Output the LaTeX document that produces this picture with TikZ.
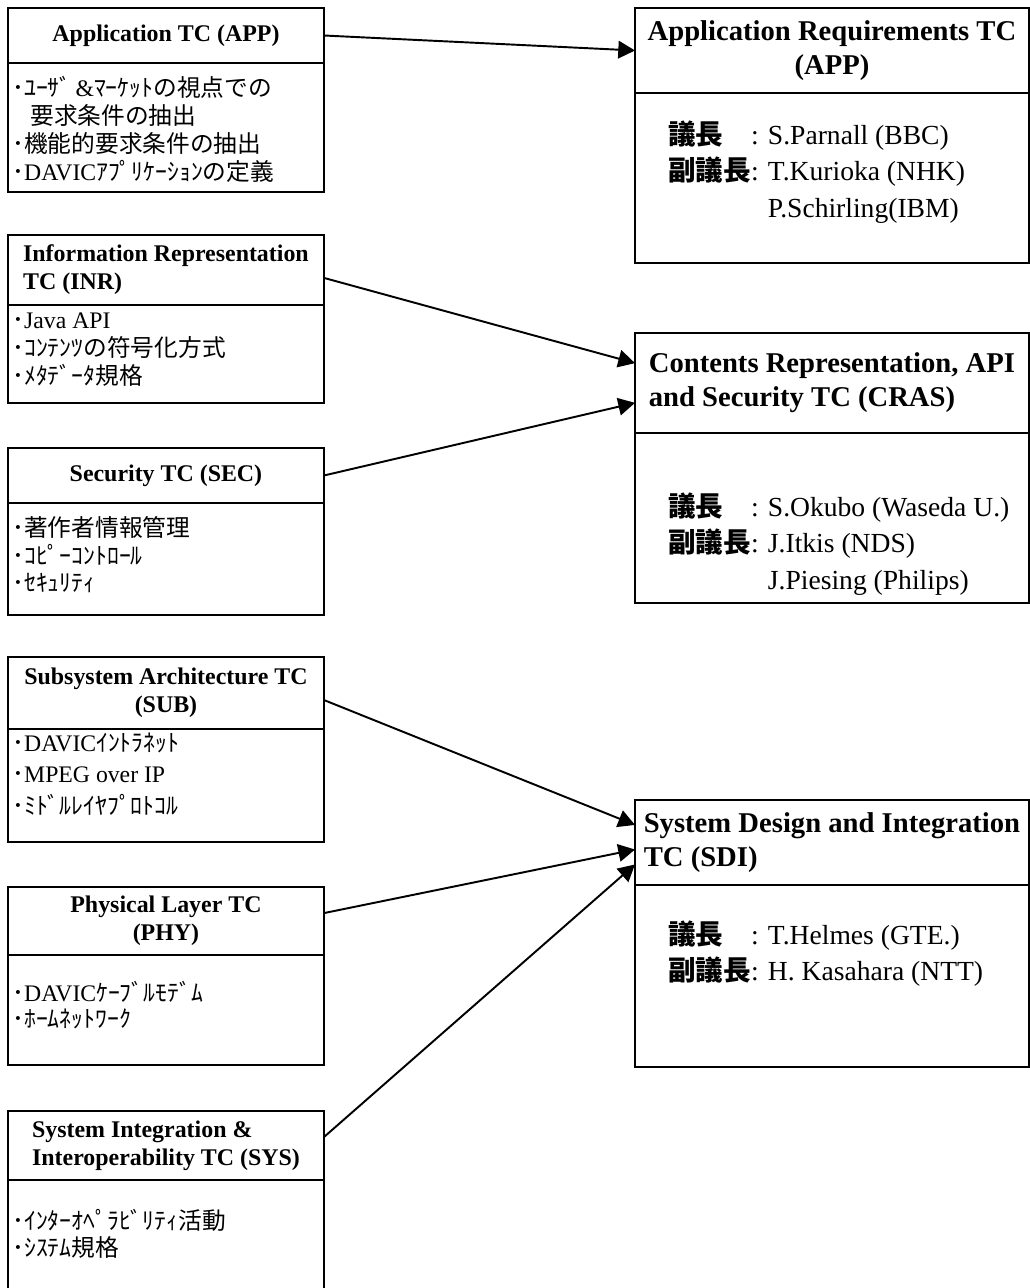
\documentclass[tikz,border=0pt]{standalone}
\usepackage{fontspec}
\setmainfont{Liberation Serif}
\newfontfamily\jpfont{Noto Sans CJK JP}
\usetikzlibrary{arrows.meta,positioning}
\newcommand\ja[1]{{\jpfont #1}}
\newcommand\jab[1]{{\jpfont\bfseries #1}}
\tikzset{box/.style={draw, line width=1.1pt, outer sep=0pt, anchor=north west},
         ltitle/.style={box, minimum width=6.32cm, align=center,
           font=\bfseries\fontsize{13.6}{16}\selectfont},
         rtitle/.style={box, minimum width=7.88cm, align=center,
           font=\bfseries\fontsize{16.3}{19.5}\selectfont},
         lbody/.style={box, minimum width=6.32cm},
         rbody/.style={box, minimum width=7.88cm},
         ltext/.style={anchor=base west, inner sep=0pt,
           font=\fontsize{13.5}{15.5}\selectfont},
         rtext/.style={anchor=base west, inner sep=0pt,
           font=\fontsize{15.7}{21}\selectfont},
         tc/.style={line width=1.1pt, -{Triangle[length=9.5pt,width=10pt]}}}

\begin{document}
\begin{tikzpicture}[x=0.02cm, y=-0.02cm]
  \useasboundingbox (0,0) rectangle (1030,1288);

  % working groups
  \node[ltitle, minimum height=1.1cm] (app) at (8,8) {Application TC (APP)};
  \node[lbody, minimum height=2.58cm, below=0pt of app] (appb) {};
  \node[ltext] (appt) at (12,96) {\begin{tabular}[t]{@{}l@{}}
    \ja{･ﾕｰｻﾞ}\,\&\ja{ﾏｰｹｯﾄの視点での}\\
    \hspace*{0.36cm}\ja{要求条件の抽出}\\
    \ja{･機能的要求条件の抽出}\\
    \ja{･}DAVIC\ja{ｱﾌﾟﾘｹｰｼｮﾝの定義}\end{tabular}};

  \node[ltitle, minimum height=1.4cm, align=left] (inr) at (8,235)
    {Information Representation\\TC (INR)};
  \node[lbody, minimum height=1.96cm, below=0pt of inr] (inrb) {};
  \node[ltext] (inrt) at (12,328) {\begin{tabular}[t]{@{}l@{}}
    \ja{･}Java API\\
    \ja{･ｺﾝﾃﾝﾂの符号化方式}\\
    \ja{･ﾒﾀﾃﾞｰﾀ規格}\end{tabular}};

  \node[ltitle, minimum height=1.1cm] (sec) at (8,448) {Security TC (SEC)};
  \node[lbody, minimum height=2.24cm, below=0pt of sec] (secb) {};
  \node[ltext] (sect) at (12,536) {\begin{tabular}[t]{@{}l@{}}
    \ja{･著作者情報管理}\\
    \ja{･ｺﾋﾟｰｺﾝﾄﾛｰﾙ}\\
    \ja{･ｾｷｭﾘﾃｨ}\end{tabular}};

  \node[ltitle, minimum height=1.44cm] (sub) at (8,657)
    {Subsystem Architecture TC\\(SUB)};
  \node[lbody, minimum height=2.26cm, below=0pt of sub] (subb) {};
  \node[ltext, font=\fontsize{13.5}{18}\selectfont] (subt) at (12,751)
    {\begin{tabular}[t]{@{}l@{}}
    \ja{･}DAVIC\ja{ｲﾝﾄﾗﾈｯﾄ}\\
    \ja{･}MPEG over IP\\
    \ja{･ﾐﾄﾞﾙﾚｲﾔﾌﾟﾛﾄｺﾙ}\end{tabular}};

  \node[ltitle, minimum height=1.36cm] (phy) at (8,887)
    {Physical Layer TC\\(PHY)};
  \node[lbody, minimum height=2.2cm, below=0pt of phy] (phyb) {};
  \node[ltext, font=\fontsize{13.5}{14}\selectfont] (phyt) at (12,1001)
    {\begin{tabular}[t]{@{}l@{}}
    \ja{･}DAVIC\ja{ｹｰﾌﾞﾙﾓﾃﾞﾑ}\\
    \ja{･ﾎｰﾑﾈｯﾄﾜｰｸ}\end{tabular}};

  \node[ltitle, minimum height=1.38cm, align=left] (sys) at (8,1111)
    {System Integration \&\\Interoperability TC (SYS)};
  \node[lbody, minimum height=2.24cm, below=0pt of sys] (sysb) {};
  \node[ltext, font=\fontsize{13.5}{14.5}\selectfont] (syst) at (12,1229)
    {\begin{tabular}[t]{@{}l@{}}
    \ja{･ｲﾝﾀｰｵﾍﾟﾗﾋﾞﾘﾃｨ活動}\\
    \ja{･ｼｽﾃﾑ規格}\end{tabular}};

  % new technical committees
  \node[rtitle, minimum height=1.7cm] (apr) at (635,8)
    {Application Requirements TC\\(APP)};
  \node[rbody, minimum height=3.4cm, below=0pt of apr] (aprb) {};
  \node[rtext] (aprt) at (668,144) {\begin{tabular}[t]{@{}l@{}l@{}}
    \jab{議長} & : S.Parnall (BBC)\\
    \jab{副議長} & : T.Kurioka (NHK)\\
    & \phantom{: }P.Schirling(IBM)\end{tabular}};

  \node[rtitle, minimum height=2cm, align=left] (cras) at (635,333)
    {Contents Representation, API\\and Security TC (CRAS)};
  \node[rbody, minimum height=3.4cm, below=0pt of cras] (crasb) {};
  \node[rtext] (crast) at (668,516) {\begin{tabular}[t]{@{}l@{}l@{}}
    \jab{議長} & : S.Okubo (Waseda U.)\\
    \jab{副議長} & : J.Itkis (NDS)\\
    & \phantom{: }J.Piesing (Philips)\end{tabular}};

  \node[rtitle, minimum height=1.7cm, align=left] (sdi) at (635,800)
    {System Design and Integration\\TC (SDI)};
  \node[rbody, minimum height=3.64cm, below=0pt of sdi] (sdib) {};
  \node[rtext] (sdit) at (668,944) {\begin{tabular}[t]{@{}l@{}l@{}}
    \jab{議長} & : T.Helmes (GTE.)\\
    \jab{副議長} & : H. Kasahara (NTT)\end{tabular}};

  % regrouping
  \draw[tc] (app.east) -- (apr.west);
  \draw[tc] ([yshift=-4.5pt]inr.east) -- ([yshift=11.3pt]cras.west);
  \draw[tc] (sec.east) -- ([yshift=-11.3pt]cras.west);
  \draw[tc] ([yshift=-4pt]sub.east) -- ([yshift=10pt]sdi.west);
  \draw[tc] ([yshift=4.5pt]phy.east) -- ([yshift=-4pt]sdi.west);
  \draw[tc] ([yshift=4.8pt]sys.east) -- ([yshift=-12.5pt]sdi.west);
\end{tikzpicture}
\end{document}
